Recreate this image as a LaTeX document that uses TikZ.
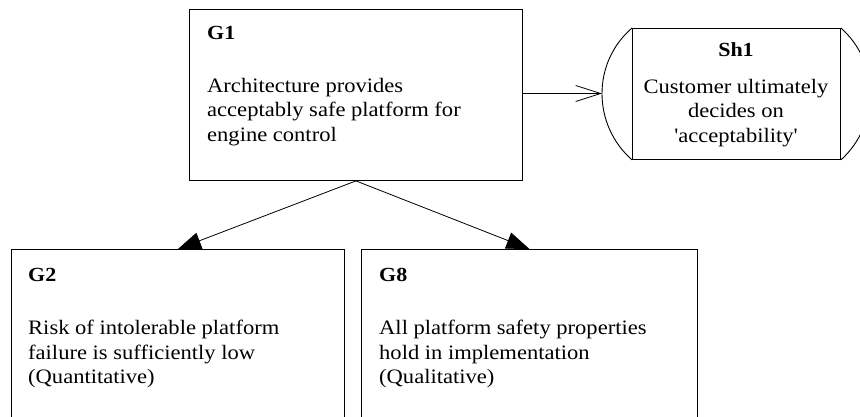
\documentclass[tikz,border=0pt]{standalone}
\usepackage{fontspec}
\setmainfont{Liberation Serif}[FakeStretch=1.1, Ligatures=TeXOff]
\usetikzlibrary{arrows.meta}

\tikzset{
  goalbox/.style={draw, line width=0.9pt, rectangle, anchor=north west, inner sep=0pt},
  idtext/.style={anchor=base west, inner sep=0pt, font=\fontsize{20}{24.5}\selectfont\bfseries},
  bodytext/.style={anchor=north west, inner sep=0pt, align=left, font=\fontsize{20.5}{24.5}\selectfont},
  shtext/.style={anchor=north, inner sep=0pt, align=center, font=\fontsize{20.5}{24.5}\selectfont},
  link/.style={line width=0.8pt},
  solved/.style={link, -{Triangle[length=23pt, width=17pt]}},
  context/.style={link, -{Straight Barb[length=25pt, width=16pt, line width=0.8pt]}}
}

\begin{document}
\begin{tikzpicture}[x=1pt, y=-1pt]
  \useasboundingbox (0,0) rectangle (860,417);
  \clip (0,0) rectangle (860,417);

  % top-level goal
  \node[goalbox, minimum width=333pt, minimum height=171pt] (G1) at (189,9) {};
  \node[idtext] (G1id) at (207,40) {G1};
  \node[bodytext] (G1txt) at (207,78) {Architecture provides\\acceptably safe platform for\\engine control};

  % sub-goals
  \node[goalbox, minimum width=333pt, minimum height=200pt] (G2) at (11,249) {};
  \node[idtext] (G2id) at (28,281) {G2};
  \node[bodytext] (G2txt) at (28,320) {Risk of intolerable platform\\failure is sufficiently low\\(Quantitative)};

  \node[goalbox, minimum width=336pt, minimum height=200pt] (G8) at (361,249) {};
  \node[idtext] (G8id) at (379,281) {G8};
  \node[bodytext] (G8txt) at (379,320) {All platform safety properties\\hold in implementation\\(Qualitative)};

  % context (rectangle with curved sides)
  \node[goalbox, minimum width=208pt, minimum height=131pt] (Sh1) at (632,28) {};
  \draw[line width=0.9pt] (Sh1.north west) .. controls (592,62.5) and (592,124.5) .. (Sh1.south west);
  \draw[line width=0.9pt] (Sh1.north east) .. controls (880,62.5) and (880,124.5) .. (Sh1.south east);
  \coordinate (Sh1tip) at (602,93.5);
  \node[anchor=base, inner sep=0pt, font=\fontsize{20}{24.5}\selectfont\bfseries] (Sh1id) at (736,57) {Sh1};
  \node[shtext] (Sh1txt) at (736,79) {Customer ultimately\\decides on\\'acceptability'};

  % links
  \draw[context] (G1.east |- Sh1tip) -- (Sh1tip);
  \draw[solved] (G1.south) -- (G2.north);
  \draw[solved] (G1.south) -- (G8.north);
\end{tikzpicture}
\end{document}
